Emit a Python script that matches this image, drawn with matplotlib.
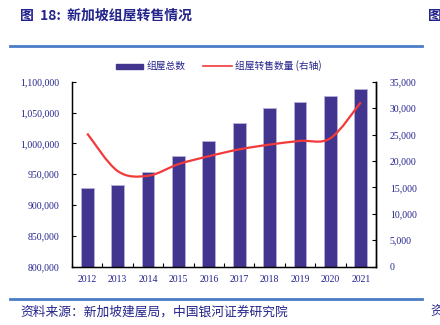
import matplotlib
matplotlib.use("Agg")
import matplotlib.pyplot as plt
import numpy as np
from matplotlib.path import Path
from matplotlib.patches import PathPatch
from matplotlib.lines import Line2D
from matplotlib.patches import Rectangle
from matplotlib.ticker import FuncFormatter

years = ["2012", "2013", "2014", "2015", "2016", "2017", "2018", "2019", "2020", "2021"]
total_flats = [927000, 933000, 953500, 980000, 1004000, 1032500, 1057000, 1066500, 1077000, 1087500]
resale = [25200, 18100, 17200, 19400, 20900, 22200, 23100, 23800, 24300, 31100]

CJK = ["Noto Sans CJK SC", "DejaVu Sans"]
SERIF = ["Liberation Serif", "DejaVu Serif"]
NAVY = "#23238C"
BAR = "#41358F"
RED = "#F23A3A"
BLUE = "#4A7CC8"

fig = plt.figure(figsize=(4.4, 3.25), dpi=100)
fig.patch.set_facecolor("white")

ax = fig.add_axes([72/440, 1-266.7/325, (376-72)/440, (266.7-81.7)/325])
x = np.arange(len(years))
ax.bar(x, total_flats, width=0.42, color=BAR, edgecolor="#B8B2DA", linewidth=0.6, zorder=2)
ax.set_xlim(-0.5, len(years)-0.5)
ax.set_ylim(800000, 1100000)
ax.set_yticks(np.arange(800000, 1100001, 50000))
ax.yaxis.set_major_formatter(FuncFormatter(lambda v, p: f"{int(v):,}"))
ax.set_xticks(x)
ax.set_xticklabels(years)
ax.set_xticks(np.arange(-0.5, len(years), 1.0), minor=True)
ax.tick_params(axis="x", which="major", length=0, pad=6, labelsize=7, labelcolor=NAVY)
ax.tick_params(axis="x", which="minor", direction="in", length=3, width=0.8)
ax.tick_params(axis="y", direction="in", length=3, width=0.8, labelsize=7, labelcolor=NAVY, pad=9)
for lab in ax.get_xticklabels() + ax.get_yticklabels():
    lab.set_family(SERIF)
ax.spines["top"].set_visible(False)
for s in ["left", "bottom", "right"]:
    ax.spines[s].set_linewidth(1.0)

ax2 = ax.twinx()
ax2.set_ylim(0, 35000)
ax2.set_yticks(np.arange(0, 35001, 5000))
ax2.yaxis.set_major_formatter(FuncFormatter(lambda v, p: f"{int(v):,}"))
ax2.tick_params(axis="y", direction="in", length=3, width=0.8, labelsize=7, labelcolor=NAVY, pad=10)
for lab in ax2.get_yticklabels():
    lab.set_family(SERIF)
ax2.spines["top"].set_visible(False)
ax2.spines["right"].set_linewidth(1.0)

# smooth curve through data points (Catmull-Rom as cubic Bezier segments)
pts = np.column_stack([x, resale]).astype(float)
verts = [tuple(pts[0])]
codes = [Path.MOVETO]
n = len(pts)
for i in range(n-1):
    p0 = pts[i-1] if i > 0 else pts[i]
    p1 = pts[i]
    p2 = pts[i+1]
    p3 = pts[i+2] if i+2 < n else pts[i+1]
    c1 = p1 + (p2 - p0) / 6.0
    c2 = p2 - (p3 - p1) / 6.0
    verts += [tuple(c1), tuple(c2), tuple(p2)]
    codes += [Path.CURVE4]*3
ax2.add_patch(PathPatch(Path(verts, codes), facecolor="none", edgecolor=RED, linewidth=1.6, zorder=3))

# legend (manual, figure coords)
fig.add_artist(Rectangle((116/440, 1-68.5/325), 27/440, 5/325, transform=fig.transFigure, color=BAR))
fig.text(147/440, 1-66/325, "组屋总数", family=CJK, fontsize=7, color=NAVY, va="center", ha="left")
fig.add_artist(Line2D([203/440, 232/440], [1-66/325, 1-66/325], transform=fig.transFigure, color=RED, linewidth=1.2))
fig.text(235/440, 1-66/325, "组屋转售数量 (右轴)", family=CJK, fontsize=7, color=NAVY, va="center", ha="left")

# header / footer
fig.text(20/440, 1-16/325, "图  18:  新加坡组屋转售情况", family=CJK, fontsize=10, fontweight="bold", color=NAVY, va="center", ha="left")
fig.text(428/440, 1-16/325, "图", family=CJK, fontsize=10, fontweight="bold", color=NAVY, va="center", ha="left")
fig.add_artist(Line2D([10/440, 422/440], [1-46/325, 1-46/325], transform=fig.transFigure, color=BLUE, linewidth=2.0))
fig.add_artist(Line2D([10/440, 422/440], [1-299/325, 1-299/325], transform=fig.transFigure, color=BLUE, linewidth=2.0))
fig.text(20/440, 1-312/325, "资料来源：新加坡建屋局，中国银河证券研究院", family=CJK, fontsize=9.2, style="italic", color=NAVY, va="center", ha="left")
fig.text(430/440, 1-312/325, "资", family=CJK, fontsize=9.2, style="italic", color=NAVY, va="center", ha="left")

fig.savefig("out.png", dpi=100, facecolor="white")
